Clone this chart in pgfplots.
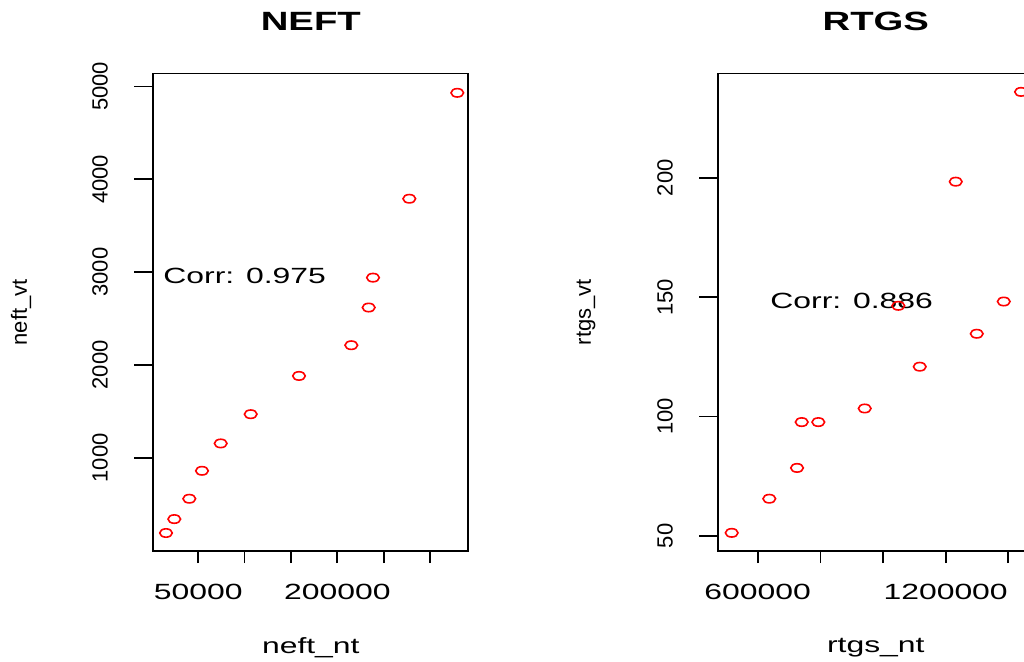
\documentclass[border=0pt]{standalone}
\usepackage{pgfplots}
\pgfplotsset{compat=1.18}
\usepackage{fontspec}
\setmainfont{Liberation Sans}
\begin{document}
\begin{tikzpicture}[font=\fontsize{11}{13}\selectfont]
\useasboundingbox (0,0) rectangle (512pt,330.5pt);
\clip (0,0) rectangle (512pt,330.5pt);
\pgfplotsset{
  rstyle/.style={
    scale only axis, width=157.5pt, height=238.75pt, anchor=south west,
    axis line style={line width=0.85pt},
    tick align=outside, xtick pos=bottom, ytick pos=left,
    tick style={line width=0.85pt, black},
    major tick length=6pt,
    ytick style={/pgfplots/major tick length=9.5pt},
    scaled ticks=false,
    minor tick num=0,
    xticklabel style={anchor=center, xscale=1.45, font=\fontsize{11}{13}\selectfont},
    xticklabel shift=14.35pt,
    yticklabel style={rotate=90, anchor=center, font=\fontsize{11}{13}\selectfont},
    yticklabel shift=20.65pt,
    every axis title/.style={at={(axis description cs:0.5,1.11)}, anchor=center, xscale=1.45, font=\bfseries\fontsize{13.2}{15}\selectfont},
    xlabel style={at={(axis description cs:0.5,-0.2031)}, anchor=center, xscale=1.45, font=\fontsize{11}{13}\selectfont},
    ylabel style={at={(axis description cs:-0.42,0.5)}, anchor=center, font=\fontsize{11}{13}\selectfont},
    clip=false,
  },
  rmarks/.style={only marks, mark=o, draw=red, mark size=2.1pt,
      mark options={xscale=1.5, line width=0.8pt, draw=red, fill=none, solid}},
}
\begin{axis}[rstyle, at={(76.65pt,55pt)},
  xmin=1450, xmax=341330, ymin=-4, ymax=5140,
  xtick={50000,100000,150000,200000,250000,300000},
  xticklabels={50000,{},{},200000,{},{}},
  ytick={1000,2000,3000,4000,5000},
  yticklabels={1000,2000,3000,4000,5000},
  title={NEFT}, xlabel={neft\_nt}, ylabel={neft\_vt}]
\addplot[rmarks] coordinates {(15150,190) (24100,340) (40290,559) (53990,860) (74170,1155) (106540,1470) (158650,1882) (215080,2213) (233850,2619) (238500,2941) (277660,3791) (329450,4932)};
\node[xscale=1.45, anchor=center] at (axis cs:100000,2960) {Corr: 0.975};
\end{axis}
\begin{axis}[rstyle, at={(359.15pt,55pt)},
  xmin=474200, xmax=1479800, ymin=43.7, ymax=243.7,
  xtick={600000,800000,1000000,1200000,1400000},
  xticklabels={600000,{},{},1200000,{}},
  ytick={50,100,150,200},
  yticklabels={50,100,150,200},
  title={RTGS}, xlabel={rtgs\_nt}, ylabel={rtgs\_vt}]
\addplot[rmarks] coordinates {(517000,51.3) (637000,65.6) (725500,78.5) (740500,97.7) (793500,97.7) (941650,103.4) (1117300,120.9) (1299300,134.7) (1048900,146.4) (1385500,148.2) (1232200,198.4) (1440700,236.0)};
\node[xscale=1.45, anchor=center] at (axis cs:900000,148.5) {Corr: 0.886};
\end{axis}
\end{tikzpicture}
\end{document}
